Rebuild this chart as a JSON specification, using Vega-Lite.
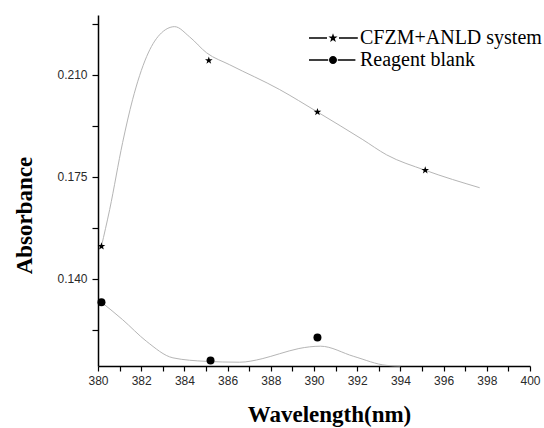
{
  "$schema": "https://vega.github.io/schema/vega-lite/v6.json",
  "width": 432,
  "height": 351,
  "autosize": {"type": "none"},
  "padding": {"left": 98, "top": 15, "right": 14, "bottom": 62},
  "background": "white",
  "config": {
    "view": {"stroke": null},
    "axis": {
      "grid": false,
      "domainColor": "black",
      "domainWidth": 1.5,
      "tickColor": "black",
      "tickWidth": 1.2,
      "tickSize": 5,
      "labelFont": "Liberation Sans",
      "labelFontSize": 12,
      "labelColor": "#2a2a2a",
      "titleFont": "Liberation Serif",
      "titleFontWeight": "bold",
      "titleFontSize": 23,
      "titleColor": "black"
    }
  },
  "data": {
    "values": [
      {"series": "CFZM+ANLD system", "kind": "curve", "x": 380.16, "y": 0.1511},
      {"series": "CFZM+ANLD system", "kind": "curve", "x": 380.54, "y": 0.1637},
      {"series": "CFZM+ANLD system", "kind": "curve", "x": 381.14, "y": 0.1867},
      {"series": "CFZM+ANLD system", "kind": "curve", "x": 381.6, "y": 0.2014},
      {"series": "CFZM+ANLD system", "kind": "curve", "x": 382.25, "y": 0.2162},
      {"series": "CFZM+ANLD system", "kind": "curve", "x": 382.85, "y": 0.2237},
      {"series": "CFZM+ANLD system", "kind": "curve", "x": 383.55, "y": 0.2265},
      {"series": "CFZM+ANLD system", "kind": "curve", "x": 384.24, "y": 0.223},
      {"series": "CFZM+ANLD system", "kind": "curve", "x": 385.03, "y": 0.2175},
      {"series": "CFZM+ANLD system", "kind": "curve", "x": 386.1, "y": 0.2134},
      {"series": "CFZM+ANLD system", "kind": "curve", "x": 388.41, "y": 0.2049},
      {"series": "CFZM+ANLD system", "kind": "curve", "x": 390.16, "y": 0.1972},
      {"series": "CFZM+ANLD system", "kind": "curve", "x": 392.26, "y": 0.1877},
      {"series": "CFZM+ANLD system", "kind": "curve", "x": 393.36, "y": 0.1825},
      {"series": "CFZM+ANLD system", "kind": "curve", "x": 395.15, "y": 0.1772},
      {"series": "CFZM+ANLD system", "kind": "curve", "x": 397.67, "y": 0.1712},
      {"series": "Reagent blank", "kind": "curve", "x": 380.16, "y": 0.1319},
      {"series": "Reagent blank", "kind": "curve", "x": 381.14, "y": 0.1259},
      {"series": "Reagent blank", "kind": "curve", "x": 382.24, "y": 0.1185},
      {"series": "Reagent blank", "kind": "curve", "x": 383.47, "y": 0.1128},
      {"series": "Reagent blank", "kind": "curve", "x": 385.0, "y": 0.1116},
      {"series": "Reagent blank", "kind": "curve", "x": 386.55, "y": 0.1113},
      {"series": "Reagent blank", "kind": "curve", "x": 387.6, "y": 0.1125},
      {"series": "Reagent blank", "kind": "curve", "x": 388.4, "y": 0.1142},
      {"series": "Reagent blank", "kind": "curve", "x": 389.3, "y": 0.116},
      {"series": "Reagent blank", "kind": "curve", "x": 390.3, "y": 0.1168},
      {"series": "Reagent blank", "kind": "curve", "x": 391.84, "y": 0.1133},
      {"series": "Reagent blank", "kind": "curve", "x": 393.38, "y": 0.1102},
      {"series": "Reagent blank", "kind": "curve", "x": 394.0, "y": 0.1100},
      {"series": "CFZM+ANLD system", "kind": "marker", "x": 380.16, "y": 0.1511},
      {"series": "CFZM+ANLD system", "kind": "marker", "x": 385.13, "y": 0.2149},
      {"series": "CFZM+ANLD system", "kind": "marker", "x": 390.16, "y": 0.1972},
      {"series": "CFZM+ANLD system", "kind": "marker", "x": 395.15, "y": 0.1772},
      {"series": "Reagent blank", "kind": "marker", "x": 380.16, "y": 0.1319},
      {"series": "Reagent blank", "kind": "marker", "x": 385.21, "y": 0.1119},
      {"series": "Reagent blank", "kind": "marker", "x": 390.16, "y": 0.1198}
    ]
  },
  "encoding": {
    "x": {
      "field": "x",
      "type": "quantitative",
      "scale": {"domain": [380, 400], "nice": false, "zero": false},
      "axis": {
        "title": "Wavelength(nm)",
        "values": [380,381,382,383,384,385,386,387,388,389,390,391,392,393,394,395,396,397,398,399,400],
        "format": "d",
        "labelExpr": "datum.value % 2 == 0 ? datum.label : ''",
        "labelPadding": 4,
        "labelFlush": false,
        "labelOverlap": false,
        "titleX": 231,
        "titleY": 48,
        "titleAlign": "center",
        "titleBaseline": "middle"
      }
    },
    "y": {
      "field": "y",
      "type": "quantitative",
      "scale": {"domain": [0.11, 0.2305], "nice": false, "zero": false},
      "axis": {
        "title": "Absorbance",
        "values": [0.1225, 0.14, 0.1575, 0.175, 0.1925, 0.21, 0.2275],
        "labelExpr": "(round(datum.value*10000) % 350 == 0) ? format(datum.value, '.3f') : ''",
        "labelPadding": 5,
        "tickSize": 6,
        "labelOverlap": false,
        "titleX": -74,
        "titleY": 200,
        "titleAngle": -90,
        "titleAlign": "center",
        "titleBaseline": "middle"
      }
    }
  },
  "layer": [
    {
      "transform": [{"filter": "datum.kind === 'curve'"}],
      "mark": {"type": "line", "interpolate": "monotone", "color": "#b5b5b5", "strokeWidth": 1},
      "encoding": {"detail": {"field": "series"}}
    },
    {
      "transform": [{"filter": "datum.kind === 'marker'"}],
      "mark": {"type": "point", "filled": true, "color": "black", "size": 64, "opacity": 1},
      "encoding": {
        "shape": {
          "field": "series",
          "type": "nominal",
          "scale": {
            "domain": ["CFZM+ANLD system", "Reagent blank"],
            "range": ["M0,-1L0.235,-0.324L0.951,-0.309L0.38,0.124L0.588,0.809L0,0.4L-0.588,0.809L-0.38,0.124L-0.951,-0.309L-0.235,-0.324Z", "circle"]
          },
          "legend": null
        }
      }
    },
    {
      "transform": [{"filter": "datum.kind === 'marker'"}],
      "mark": {"type": "point", "filled": true, "color": "black", "size": 256, "opacity": 0},
      "encoding": {
        "shape": {
          "field": "series",
          "type": "nominal",
          "scale": {
            "domain": ["CFZM+ANLD system", "Reagent blank"],
            "range": [
              "M-3,-0.09H-0.75V0.09H-3ZM0.75,-0.09H3.1V0.09H0.75ZM0,-0.6L0.141,-0.194L0.571,-0.185L0.228,0.074L0.353,0.485L0,0.24L-0.353,0.485L-0.228,0.074L-0.571,-0.185L-0.141,-0.194Z",
              "M-3,-0.09H-0.6V0.09H-3ZM0.6,-0.09H2.8V0.09H0.6ZM-0.5,0A0.5,0.5,0,1,1,0.5,0A0.5,0.5,0,1,1,-0.5,0Z"
            ]
          },
          "legend": {
            "title": null,
            "orient": "none",
            "legendX": 225,
            "legendY": 13,
            "padding": 0,
            "symbolSize": 256,
            "symbolOpacity": 1,
            "symbolFillColor": "black",
            "labelFont": "Liberation Serif",
            "labelFontSize": 20,
            "labelColor": "black",
            "labelLimit": 0,
            "labelOffset": 17,
            "rowPadding": 2
          }
        }
      }
    }
  ],
  "resolve": {"scale": {"shape": "independent"}, "legend": {"shape": "independent"}}
}
